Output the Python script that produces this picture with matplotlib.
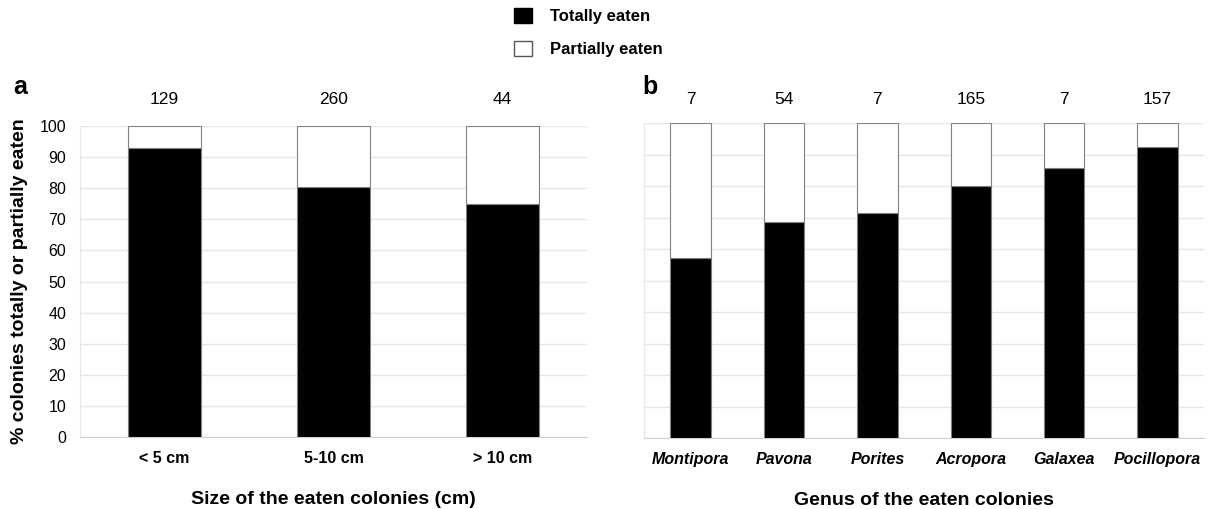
import numpy as np
import matplotlib
matplotlib.use("Agg")
import matplotlib.pyplot as plt
from matplotlib.patches import Patch
from matplotlib.transforms import blended_transform_factory

plt.rcParams['font.family'] = ['Liberation Sans', 'DejaVu Sans']

# panel a: colony size
sizes = ['< 5 cm', '5-10 cm', '> 10 cm']
size_n = [129, 260, 44]
size_total = [93.0, 80.4, 75.0]

# panel b: genus
genera = ['Montipora', 'Pavona', 'Porites', 'Acropora', 'Galaxea', 'Pocillopora']
genus_n = [7, 54, 7, 165, 7, 157]
genus_total = [57.1, 68.5, 71.4, 80.0, 85.7, 92.4]

fig = plt.figure(figsize=(12.1, 5.09), dpi=100)
ax1 = fig.add_axes([0.0661, 0.1409, 0.419, 0.612])
ax2 = fig.add_axes([0.5321, 0.1389, 0.4632, 0.619])

grid_c = '#e6e6e6'
edge_c = '#808080'


def draw(ax, cats, total, counts, width, italic):
    x = np.arange(len(cats))
    total = np.array(total)
    partial = 100 - total
    ax.bar(x, total, width, color='black', edgecolor=edge_c, linewidth=0.8, zorder=3)
    ax.bar(x, partial, width, bottom=total, color='white', edgecolor=edge_c,
           linewidth=0.8, zorder=3)
    ax.set_xlim(-0.5, len(cats) - 0.5)
    ax.set_ylim(0, 100)
    ax.set_yticks(np.arange(0, 101, 10))
    ax.grid(axis='y', color=grid_c, linewidth=1, zorder=0)
    for s in ['top', 'right']:
        ax.spines[s].set_visible(False)
    ax.spines['left'].set_color(grid_c)
    ax.spines['bottom'].set_color('#d0d0d0')
    ax.tick_params(axis='x', length=0, pad=10)
    ax.tick_params(axis='y', length=0, pad=10, labelsize=11.5)
    ax.set_xticks(x)
    ax.set_xticklabels(cats, fontweight='bold', fontsize=11.5,
                       fontstyle='italic' if italic else 'normal')
    # sample sizes above the bars
    tr = blended_transform_factory(ax.transData, fig.transFigure)
    for xi, n in zip(x, counts):
        ax.text(xi, 0.804, str(n), ha='center', va='center', fontsize=12.5, transform=tr)


draw(ax1, sizes, size_total, size_n, 0.435, False)
draw(ax2, genera, genus_total, genus_n, 0.434, True)
ax2.set_yticklabels([])

ax1.set_ylabel('% colonies totally or partially eaten', fontweight='bold', fontsize=14,
               labelpad=8)
ax1.set_xlabel('Size of the eaten colonies (cm)', fontweight='bold', fontsize=14, labelpad=18)
ax2.set_xlabel('Genus of the eaten colonies', fontweight='bold', fontsize=14, labelpad=18)

fig.text(0.011, 0.83, 'a', fontweight='bold', fontsize=18, va='center')
fig.text(0.531, 0.83, 'b', fontweight='bold', fontsize=18, va='center')

handles = [Patch(facecolor='black', edgecolor='black', label='Totally eaten'),
           Patch(facecolor='white', edgecolor='#555555', label='Partially eaten')]
fig.legend(handles=handles, loc='upper left', bbox_to_anchor=(0.4248, 0.985), frameon=False,
           prop={'weight': 'bold', 'size': 12}, handlelength=1.08, handleheight=1.05,
           handletextpad=1.1, labelspacing=1.0, borderpad=0, borderaxespad=0)

fig.savefig('out.png', dpi=100)
